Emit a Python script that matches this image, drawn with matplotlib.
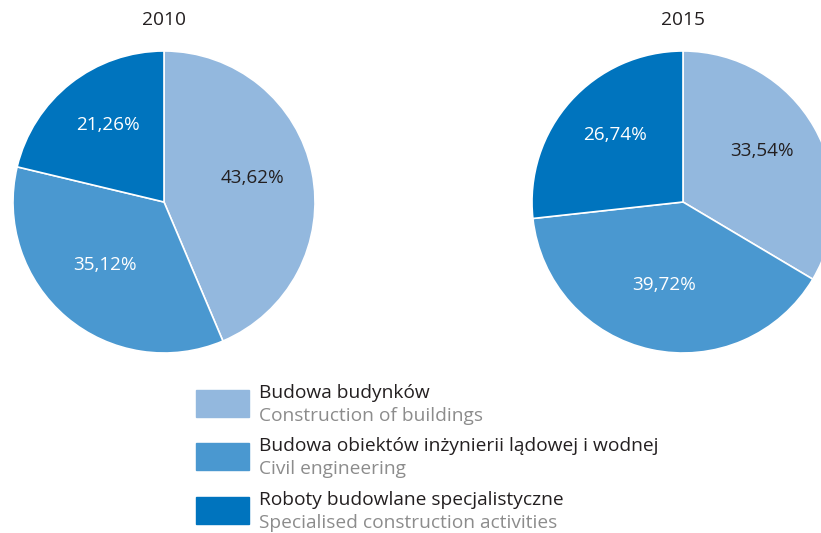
import numpy as np
import matplotlib.pyplot as plt
from matplotlib.patches import Rectangle

plt.rcParams['font.family'] = ['Open Sans', 'DejaVu Sans']

years = ['2010', '2015']
share_2010 = [43.62, 35.12, 21.26]
share_2015 = [33.54, 39.72, 26.74]
labels_pl = ['Budowa budynków',
             'Budowa obiektów inżynierii lądowej i wodnej',
             'Roboty budowlane specjalistyczne']
labels_en = ['Construction of buildings',
             'Civil engineering',
             'Specialised construction activities']

colors = ['#93b8de', '#4a98d0', '#0074be']
pct_colors = ['#231f20', 'white', 'white']
dark = '#231f20'
grey = '#8c8c8c'

W, H = 821, 533
fig = plt.figure(figsize=(W / 100, H / 100), dpi=100)

def fmt(v):
    return ('%.2f%%' % v).replace('.', ',')

def draw_pie(cx, cy, r, values, year):
    ax = fig.add_axes([(cx - r) / W, (H - cy - r) / H, 2 * r / W, 2 * r / H])
    ax.pie(values, colors=colors, startangle=90, counterclock=False,
           radius=1, wedgeprops=dict(edgecolor='white', linewidth=1.2))
    start = 90.0
    tot = sum(values)
    for v, c in zip(values, pct_colors):
        ang = np.deg2rad(start - v / tot * 180)
        start -= v / tot * 360
        ax.text(0.6 * np.cos(ang), 0.6 * np.sin(ang) + 0.04, fmt(v), ha='center',
                va='center', fontsize=13.6, color=c)
    ax.set_xlim(-1, 1)
    ax.set_ylim(-1, 1)
    ax.set_aspect('equal')
    ax.axis('off')
    fig.text(cx / W, 1 - 20 / H, year, ha='center', va='center',
             fontsize=13.8, color=dark)

draw_pie(164, 202, 151, share_2010, years[0])
draw_pie(683, 202, 151, share_2015, years[1])

# legend
box_tops = [390, 443, 497]
for top, c, pl, en in zip(box_tops, colors, labels_pl, labels_en):
    fig.patches.append(Rectangle((196 / W, 1 - (top + 27) / H), 53 / W, 27 / H,
                                 transform=fig.transFigure, color=c))
    fig.text(259 / W, 1 - (top + 3) / H, pl, ha='left', va='center',
             fontsize=13.8, color=dark)
    fig.text(259 / W, 1 - (top + 26) / H, en, ha='left', va='center',
             fontsize=13.8, color=grey)

fig.savefig('out.png', dpi=100)
